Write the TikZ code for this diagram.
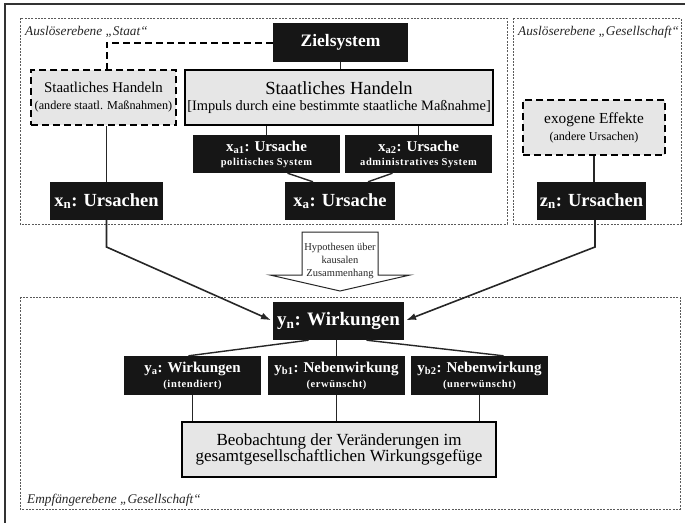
\documentclass[tikz,border=0pt]{standalone}
\usepackage{fontspec}
\setmainfont{Liberation Serif}
\usetikzlibrary{arrows.meta}
\definecolor{boxblack}{HTML}{161616}
\definecolor{boxgray}{HTML}{E6E6E6}
\definecolor{framegray}{HTML}{5A5A5A}
\newcommand{\fsz}[2]{\fontsize{#1}{#2}\selectfont}
\newcommand{\smallsp}{\addfontfeature{LetterSpace=6}}
\tikzset{
  blackbox/.style={fill=boxblack, text=white, inner sep=0pt, align=center, font=\bfseries},
  graybox/.style={fill=boxgray, draw=black, line width=1.3pt, inner sep=0pt, align=center},
  dashbox/.style={fill=boxgray, draw=black, line width=1.8pt, dash pattern=on 7pt off 4pt, inner sep=0pt, align=center},
  region/.style={draw=framegray, line width=1pt, dash pattern=on 2pt off 1.3pt},
  conn/.style={draw=black!85, line width=1.4pt},
  dconn/.style={draw=black, line width=2pt, dash pattern=on 7pt off 4pt},
  causal/.style={conn, line width=1.6pt, -{Latex[length=10pt,width=7pt]}},
  lvl/.style={font=\itshape\fsz{13.3}{15}, inner sep=0pt, anchor=base west, text=black!85},
}
\begin{document}
\begin{tikzpicture}[x=1pt, y=-1pt]
\useasboundingbox (0,0) rectangle (685,522);
% outer frame (cropped)
\draw[draw=black!80, line width=1.5pt] (5,530) -- (5,4) -- (690,4);
% regions
\draw[region] (20,18) rectangle (507,224);
\draw[region] (513,18) rectangle (681,224);
\draw[region] (20,297) rectangle (680,509);
\node[lvl] (lblstaat) at (25,35) {Auslöserebene „Staat“};
\node[lvl] (lblges) at (518,35) {Auslöserebene „Gesellschaft“};
\node[lvl] (lblemp) at (27,503) {Empfängerebene „Gesellschaft“};

% top nodes
\node[blackbox, minimum width=135pt, minimum height=39pt] (ziel) at (340.5,42.5) {\fsz{17.5}{20}Zielsystem};
\node[graybox, minimum width=308pt, minimum height=55pt] (msh) at (339,97.5)
  {\fsz{18.5}{20}Staatliches Handeln\\[4pt]\fsz{14.4}{16}[Impuls durch eine bestimmte staatliche Maßnahme]};
\node[dashbox, minimum width=145pt, minimum height=55pt] (dsh) at (103.5,97.5)
  {\fsz{14.9}{18}Staatliches Handeln\\[5pt]\fsz{12.2}{14}(andere staatl. Maßnahmen)};
\node[blackbox, minimum width=147pt, minimum height=38pt] (xa1) at (266.5,154)
  {\fsz{15}{16}x\textsubscript{a1}: Ursache\\[2pt]\fsz{10.5}{12}\smallsp politisches System};
\node[blackbox, minimum width=147pt, minimum height=38pt] (xa2) at (418.5,154)
  {\fsz{15}{16}x\textsubscript{a2}: Ursache\\[2pt]\fsz{10.5}{12}\smallsp administratives System};
\node[blackbox, minimum width=110pt, minimum height=38pt] (xa) at (340,201) {\fsz{18.5}{20}x\textsubscript{a}: Ursache};
\node[blackbox, minimum width=113pt, minimum height=38pt] (xn) at (106.5,201) {\fsz{18.5}{20}x\textsubscript{n}: Ursachen};
\node[dashbox, minimum width=142pt, minimum height=55pt] (exo) at (594,127.5)
  {\fsz{15.3}{18}exogene Effekte\\[5pt]\fsz{12.1}{14}(andere Ursachen)};
\node[blackbox, minimum width=109pt, minimum height=38pt] (zn) at (591.5,201) {\fsz{18.5}{20}z\textsubscript{n}: Ursachen};

% top connectors
\draw[dconn] (ziel.west) -| (xn.north |- dsh.north);
\draw[conn] (ziel.south) -- (ziel.south |- msh.north);
\draw[conn] (xn.north |- dsh.south) -- (xn.north);
\draw[conn] (xa1.north |- msh.south) -- (xa1.north);
\draw[conn] (xa2.north |- msh.south) -- (xa2.north);
\draw[conn] ([xshift=21pt]xa1.south) -- ([xshift=-27pt]xa.north);
\draw[conn] ([xshift=-26pt]xa2.south) -- ([xshift=28pt]xa.north);
\draw[conn] (exo.south) -- (exo.south |- zn.north);

% hypothesis arrow
\draw[fill=white, draw=black!85, line width=1pt] (302,232) -- (378,232) -- (378,275) -- (410,275) -- (340,291) -- (270,275) -- (302,275) -- cycle;
\node[font=\fsz{10.5}{13}, align=center, inner sep=0pt, text=black!85] (hyp) at (340,261) {Hypothesen über\\kausalen\\Zusammenhang};

% lower nodes
\node[blackbox, minimum width=131pt, minimum height=38pt] (yn) at (338.5,321) {\fsz{19}{20}y\textsubscript{n}: Wirkungen};
\node[blackbox, minimum width=137pt, minimum height=39pt] (ya) at (192.5,375.5)
  {\fsz{15}{16}y\textsubscript{a}: Wirkungen\\[3pt]\fsz{10.5}{12}\smallsp(intendiert)};
\node[blackbox, minimum width=137pt, minimum height=39pt] (yb1) at (336.5,375.5)
  {\fsz{15}{16}y\textsubscript{b1}: Nebenwirkung\\[3pt]\fsz{10.5}{12}\smallsp(erwünscht)};
\node[blackbox, minimum width=137pt, minimum height=39pt] (yb2) at (479.5,375.5)
  {\fsz{15}{16}y\textsubscript{b2}: Nebenwirkung\\[3pt]\fsz{10.5}{12}\smallsp(unerwünscht)};
\node[graybox, minimum width=314pt, minimum height=55pt] (beob) at (339,449.5)
  {\fsz{17}{20}Beobachtung der Veränderungen im\\\fsz{17}{20}gesamtgesellschaftlichen Wirkungsgefüge};

% causal arrows
\coordinate (xnbend) at (106.5,247);
\coordinate (znbend) at (595,247);
\draw[causal, shorten >=2pt] (xn.south) -- (xnbend) -- (yn.west);
\draw[causal, shorten >=2pt] (zn.south -| znbend) -- (znbend) -- (yn.east);

% lower connectors
\draw[conn] ([xshift=-30pt]yn.south) -- ([xshift=-4pt]ya.north);
\draw[conn] (yb1.north |- yn.south) -- (yb1.north);
\draw[conn] ([xshift=28pt]yn.south) -- ([xshift=24pt]yb2.north);
\draw[conn] (ya.south) -- (ya.south |- beob.north);
\draw[conn] (yb1.south) -- (yb1.south |- beob.north);
\draw[conn] (yb2.south) -- (yb2.south |- beob.north);
\end{tikzpicture}
\end{document}
